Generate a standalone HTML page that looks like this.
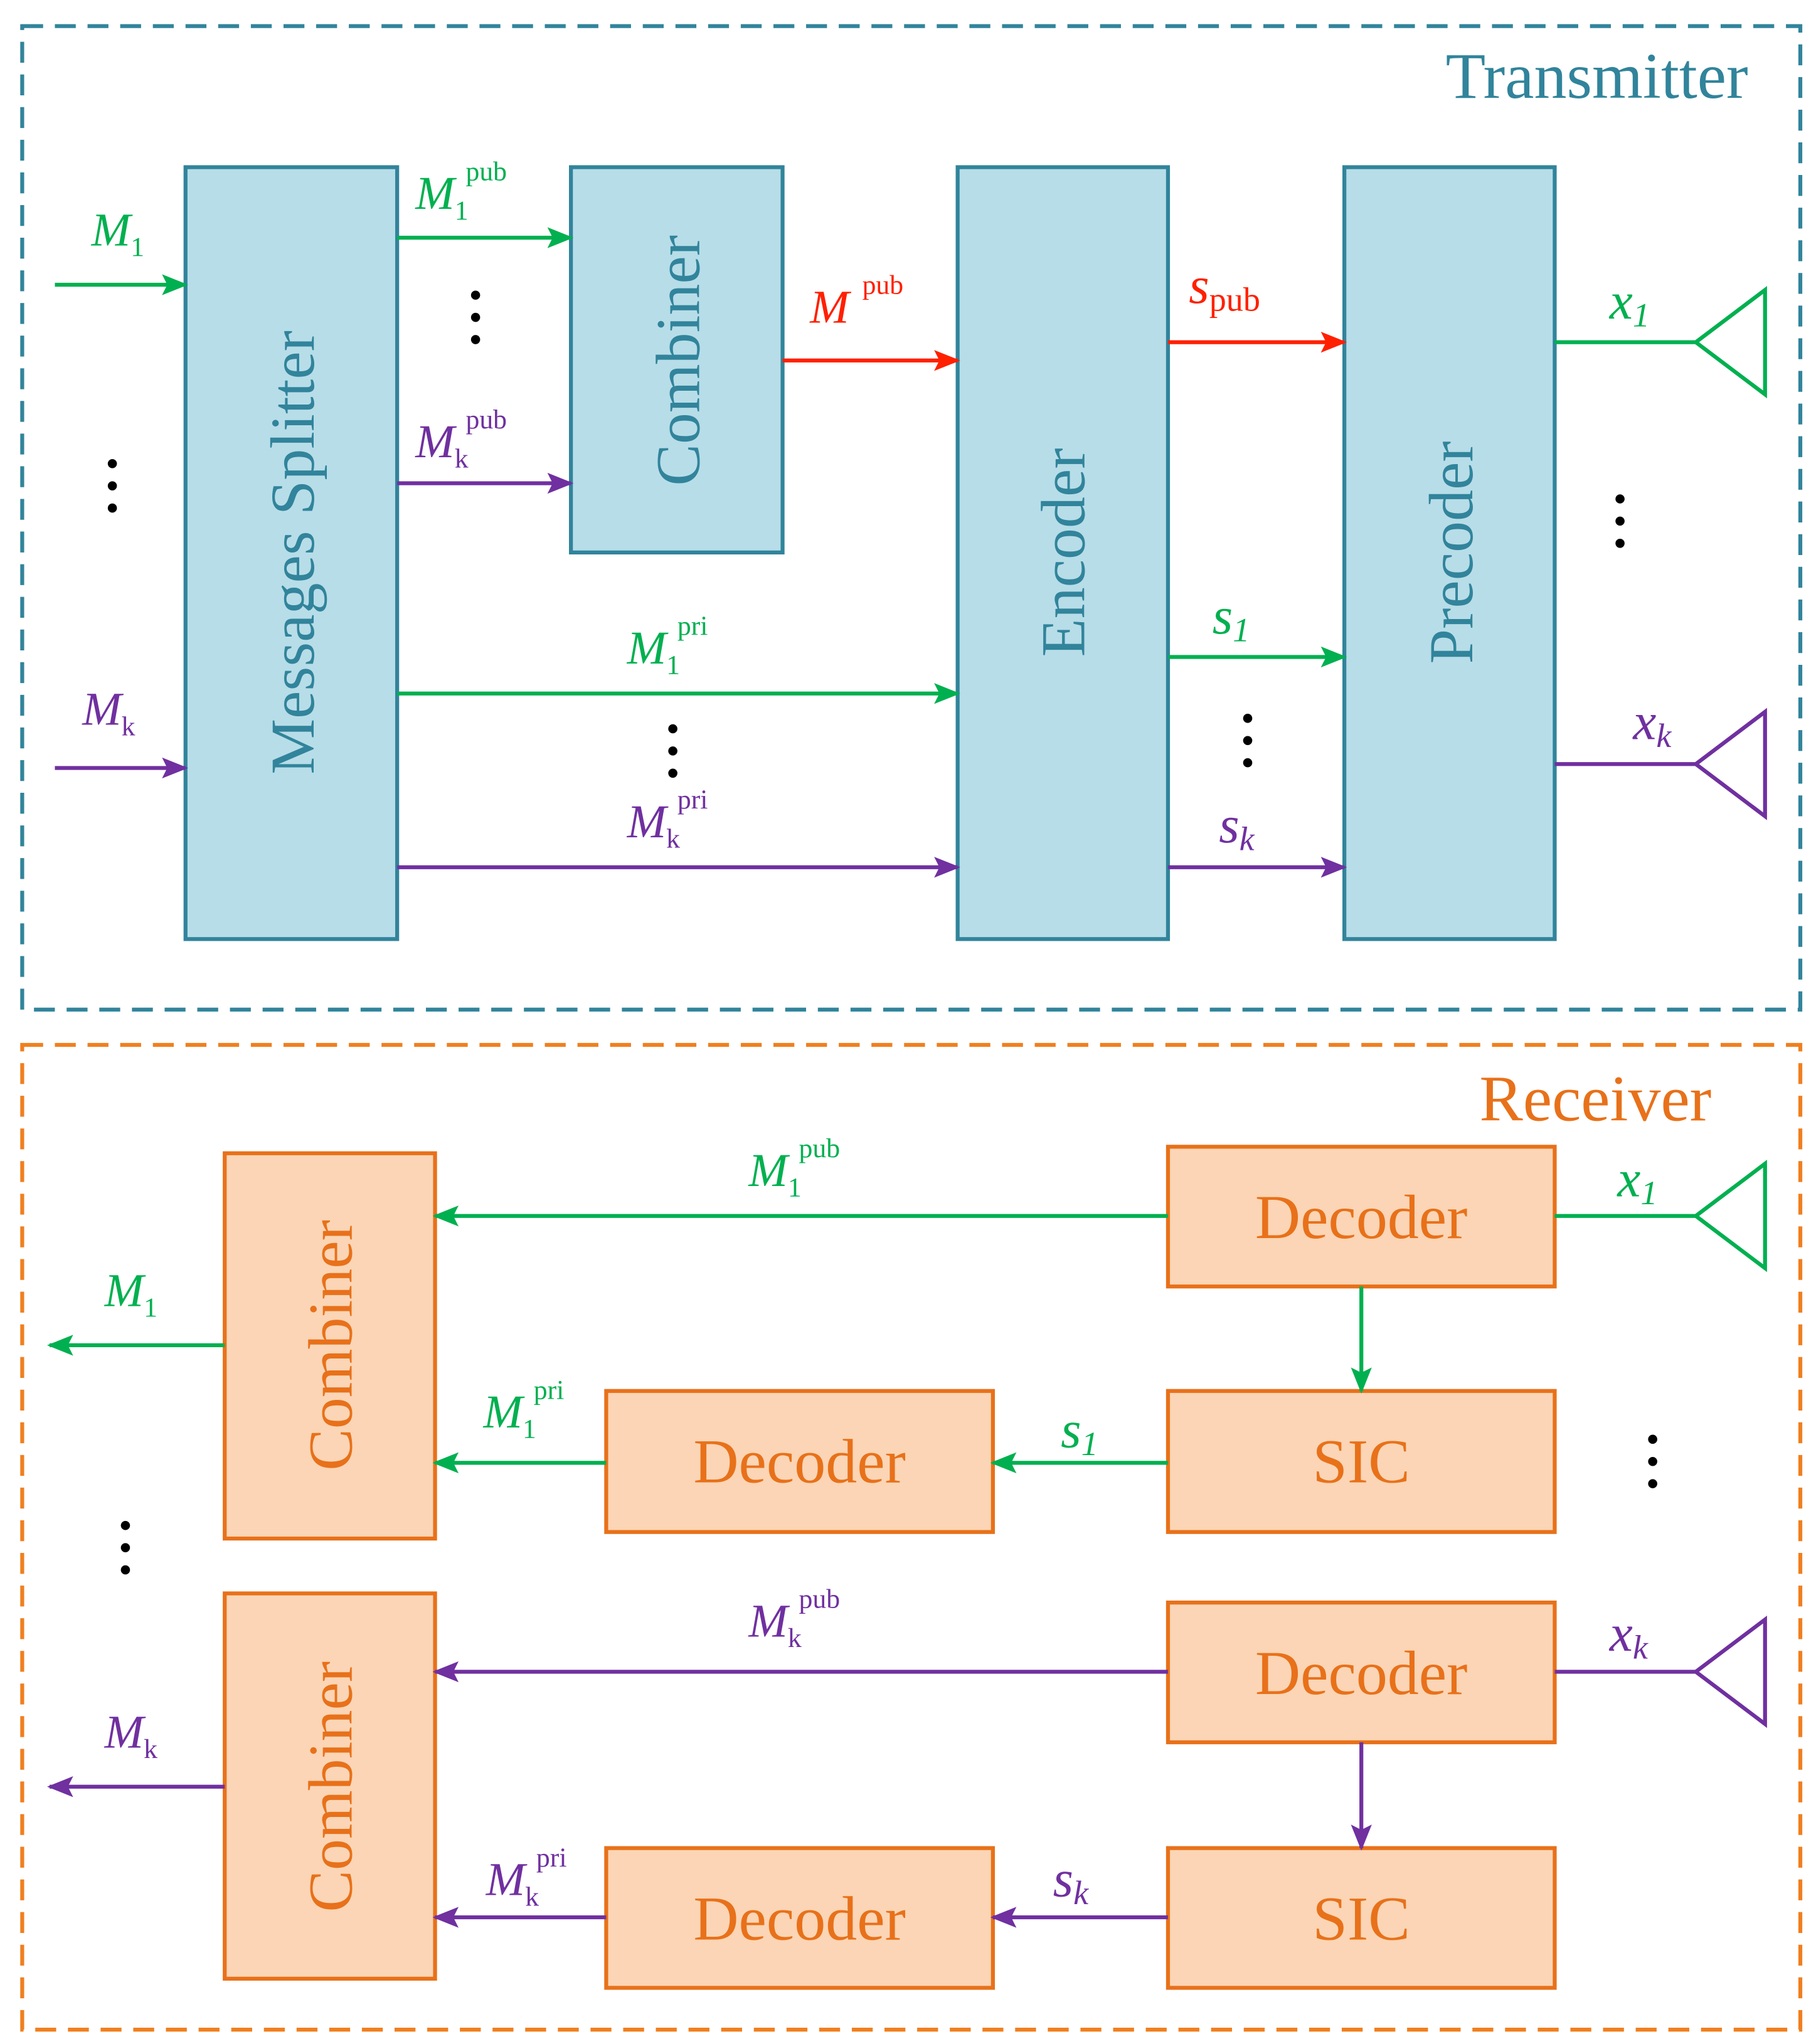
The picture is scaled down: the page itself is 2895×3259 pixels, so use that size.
<!DOCTYPE html>
<html><head><meta charset="utf-8"><style>
html,body{margin:0;padding:0;background:#fff}
svg{display:block}
text{font-family:"Liberation Serif",serif}
.lab{font-style:italic;font-size:36px}
.sub{font-style:normal;font-size:21px}
.sup{font-style:normal;font-size:21px}
.big{font-size:40px}
</style></head><body>
<svg width="2895" height="3259" viewBox="0 0 1390 1565" preserveAspectRatio="none" xmlns="http://www.w3.org/2000/svg">
<defs>
<marker id="ag" markerWidth="20" markerHeight="16" refX="18" refY="8" orient="auto" markerUnits="userSpaceOnUse" viewBox="0 0 20 16"><path d="M0,0 L20,8 L0,16 L4,8 z" fill="#00b050"/></marker>
<marker id="ap" markerWidth="20" markerHeight="16" refX="18" refY="8" orient="auto" markerUnits="userSpaceOnUse" viewBox="0 0 20 16"><path d="M0,0 L20,8 L0,16 L4,8 z" fill="#7030a0"/></marker>
<marker id="ar" markerWidth="20" markerHeight="16" refX="18" refY="8" orient="auto" markerUnits="userSpaceOnUse" viewBox="0 0 20 16"><path d="M0,0 L20,8 L0,16 L4,8 z" fill="#ff2000"/></marker>
</defs>
<style>
.mg{marker-end:url(#ag)} .mp{marker-end:url(#ap)} .mr{marker-end:url(#ar)}
</style>
<rect x="17" y="20" width="1361" height="753" fill="none" stroke="#31849b" stroke-width="3" stroke-dasharray="16,9"/>
<text x="1338" y="75" font-size="50" fill="#31849b" text-anchor="end">Transmitter</text>
<g fill="#b7dde8" stroke="#31849b" stroke-width="3">
<rect x="142" y="128" width="162" height="591"/>
<rect x="437" y="128" width="162" height="295"/>
<rect x="733" y="128" width="161" height="591"/>
<rect x="1029" y="128" width="161" height="591"/>
</g>
<g fill="#31849b" font-size="48" text-anchor="middle">
<text transform="translate(240,423) rotate(-90)">Messages Splitter</text>
<text transform="translate(535,276) rotate(-90)">Combiner</text>
<text transform="translate(830,423) rotate(-90)">Encoder</text>
<text transform="translate(1127,423) rotate(-90)">Precoder</text>
</g>
<g stroke-width="3" fill="none">
<line x1="42" y1="218" x2="142" y2="218" stroke="#00b050" class="mg"/>
<line x1="42" y1="588" x2="142" y2="588" stroke="#7030a0" class="mp"/>
<line x1="304" y1="182" x2="437" y2="182" stroke="#00b050" class="mg"/>
<line x1="304" y1="370" x2="437" y2="370" stroke="#7030a0" class="mp"/>
<line x1="599" y1="276" x2="733" y2="276" stroke="#ff2000" class="mr"/>
<line x1="304" y1="531" x2="733" y2="531" stroke="#00b050" class="mg"/>
<line x1="304" y1="664" x2="733" y2="664" stroke="#7030a0" class="mp"/>
<line x1="894" y1="262" x2="1029" y2="262" stroke="#ff2000" class="mr"/>
<line x1="894" y1="503" x2="1029" y2="503" stroke="#00b050" class="mg"/>
<line x1="894" y1="664" x2="1029" y2="664" stroke="#7030a0" class="mp"/>
<line x1="1190" y1="262" x2="1298" y2="262" stroke="#00b050"/>
<polygon points="1298,262 1351,222 1351,302" stroke="#00b050"/>
<line x1="1190" y1="585" x2="1298" y2="585" stroke="#7030a0"/>
<polygon points="1298,585 1351,545 1351,625" stroke="#7030a0"/>
</g>
<g fill="#000">
<circle cx="86" cy="355" r="3.5"/><circle cx="86" cy="372" r="3.5"/><circle cx="86" cy="389" r="3.5"/>
<circle cx="364" cy="226" r="3.5"/><circle cx="364" cy="243" r="3.5"/><circle cx="364" cy="260" r="3.5"/>
<circle cx="515" cy="558" r="3.5"/><circle cx="515" cy="575" r="3.5"/><circle cx="515" cy="592" r="3.5"/>
<circle cx="955" cy="550" r="3.5"/><circle cx="955" cy="567" r="3.5"/><circle cx="955" cy="584" r="3.5"/>
<circle cx="1240" cy="382" r="3.5"/><circle cx="1240" cy="399" r="3.5"/><circle cx="1240" cy="416" r="3.5"/>
</g>
<g class="lab">
<text x="70" y="188" fill="#00b050">M<tspan class="sub" dy="8">1</tspan></text>
<text x="63" y="555" fill="#7030a0">M<tspan class="sub" dy="8">k</tspan></text>
<text x="318" y="160" fill="#00b050">M<tspan class="sub" dy="8">1</tspan><tspan class="sup" dx="-2" dy="-30">pub</tspan></text>
<text x="318" y="350" fill="#7030a0">M<tspan class="sub" dy="8">k</tspan><tspan class="sup" dx="-2" dy="-30">pub</tspan></text>
<text x="620" y="247" fill="#ff2000">M<tspan class="sup" dx="10" dy="-22">pub</tspan></text>
<text x="480" y="508" fill="#00b050">M<tspan class="sub" dy="8">1</tspan><tspan class="sup" dx="-2" dy="-30">pri</tspan></text>
<text x="480" y="641" fill="#7030a0">M<tspan class="sub" dy="8">k</tspan><tspan class="sup" dx="-2" dy="-30">pri</tspan></text>
<text class="big" x="910" y="232" fill="#ff2000">s<tspan font-style="normal" font-size="26" dy="6">pub</tspan></text>
<text class="big" x="928" y="485" fill="#00b050">s<tspan font-size="26" dy="6">1</tspan></text>
<text class="big" x="933" y="645" fill="#7030a0">s<tspan font-size="26" dy="6">k</tspan></text>
<text class="big" x="1232" y="244" fill="#00b050">x<tspan font-size="26" dy="6">1</tspan></text>
<text class="big" x="1250" y="566" fill="#7030a0">x<tspan font-size="26" dy="6">k</tspan></text>
</g>
<rect x="17" y="800" width="1361" height="754" fill="none" stroke="#f07f1f" stroke-width="3" stroke-dasharray="16,9"/>
<text x="1310" y="858" font-size="50" fill="#e8711a" text-anchor="end">Receiver</text>
<g fill="#fbd5b5" stroke="#e8711a" stroke-width="3">
<rect x="172" y="883" width="161" height="295"/>
<rect x="172" y="1220" width="161" height="295"/>
<rect x="894" y="878" width="296" height="107"/>
<rect x="894" y="1065" width="296" height="108"/>
<rect x="464" y="1065" width="296" height="108"/>
<rect x="894" y="1227" width="296" height="107"/>
<rect x="894" y="1415" width="296" height="107"/>
<rect x="464" y="1415" width="296" height="107"/>
</g>
<g fill="#e8711a" font-size="48" text-anchor="middle">
<text transform="translate(269,1030) rotate(-90)">Combiner</text>
<text transform="translate(269,1368) rotate(-90)">Combiner</text>
<text x="1042" y="948">Decoder</text>
<text x="1042" y="1135">SIC</text>
<text x="612" y="1135">Decoder</text>
<text x="1042" y="1297">Decoder</text>
<text x="1042" y="1485">SIC</text>
<text x="612" y="1485">Decoder</text>
</g>
<g stroke-width="3" fill="none">
<line x1="894" y1="931" x2="333" y2="931" stroke="#00b050" class="mg"/>
<line x1="1190" y1="931" x2="1298" y2="931" stroke="#00b050"/>
<polygon points="1298,931 1351,891 1351,971" stroke="#00b050"/>
<line x1="1042" y1="985" x2="1042" y2="1065" stroke="#00b050" class="mg"/>
<line x1="894" y1="1120" x2="760" y2="1120" stroke="#00b050" class="mg"/>
<line x1="464" y1="1120" x2="333" y2="1120" stroke="#00b050" class="mg"/>
<line x1="172" y1="1030" x2="38" y2="1030" stroke="#00b050" class="mg"/>
<line x1="894" y1="1280" x2="333" y2="1280" stroke="#7030a0" class="mp"/>
<line x1="1190" y1="1280" x2="1298" y2="1280" stroke="#7030a0"/>
<polygon points="1298,1280 1351,1240 1351,1320" stroke="#7030a0"/>
<line x1="1042" y1="1334" x2="1042" y2="1415" stroke="#7030a0" class="mp"/>
<line x1="894" y1="1468" x2="760" y2="1468" stroke="#7030a0" class="mp"/>
<line x1="464" y1="1468" x2="333" y2="1468" stroke="#7030a0" class="mp"/>
<line x1="172" y1="1368" x2="38" y2="1368" stroke="#7030a0" class="mp"/>
</g>
<g fill="#000">
<circle cx="1265" cy="1102" r="3.5"/><circle cx="1265" cy="1119" r="3.5"/><circle cx="1265" cy="1136" r="3.5"/>
<circle cx="96" cy="1168" r="3.5"/><circle cx="96" cy="1185" r="3.5"/><circle cx="96" cy="1202" r="3.5"/>
</g>
<g class="lab">
<text x="573" y="908" fill="#00b050">M<tspan class="sub" dy="8">1</tspan><tspan class="sup" dx="-2" dy="-30">pub</tspan></text>
<text class="big" x="1238" y="916" fill="#00b050">x<tspan font-size="26" dy="6">1</tspan></text>
<text class="big" x="812" y="1108" fill="#00b050">s<tspan font-size="26" dy="6">1</tspan></text>
<text x="370" y="1093" fill="#00b050">M<tspan class="sub" dy="8">1</tspan><tspan class="sup" dx="-2" dy="-30">pri</tspan></text>
<text x="80" y="1000" fill="#00b050">M<tspan class="sub" dy="8">1</tspan></text>
<text x="573" y="1253" fill="#7030a0">M<tspan class="sub" dy="8">k</tspan><tspan class="sup" dx="-2" dy="-30">pub</tspan></text>
<text class="big" x="1232" y="1264" fill="#7030a0">x<tspan font-size="26" dy="6">k</tspan></text>
<text class="big" x="806" y="1452" fill="#7030a0">s<tspan font-size="26" dy="6">k</tspan></text>
<text x="372" y="1451" fill="#7030a0">M<tspan class="sub" dy="8">k</tspan><tspan class="sup" dx="-2" dy="-30">pri</tspan></text>
<text x="80" y="1338" fill="#7030a0">M<tspan class="sub" dy="8">k</tspan></text>
</g>
</svg>
</body></html>
